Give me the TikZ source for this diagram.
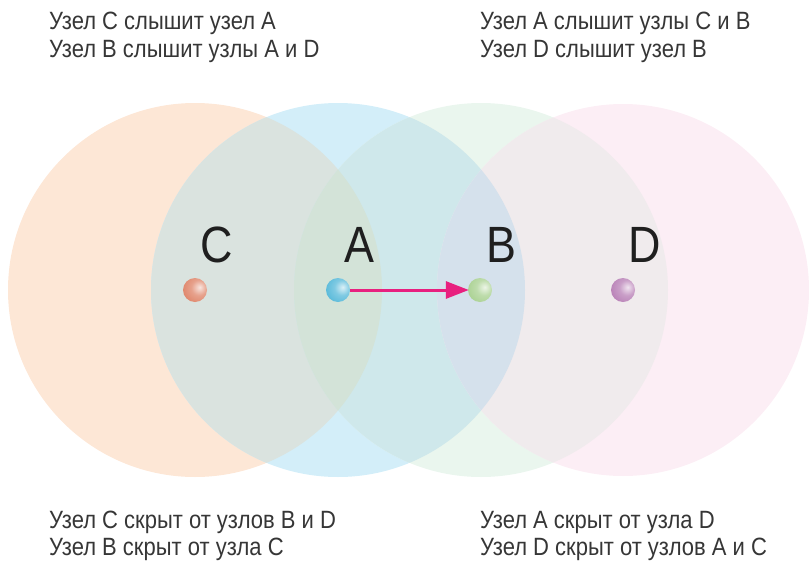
\documentclass[tikz,border=0pt]{standalone}
\usepackage{fontspec}
\setmainfont{Liberation Sans}
\newfontfamily\capfont[FakeStretch=0.88]{Liberation Sans}
\newfontfamily\letterfont[FakeStretch=0.88]{Liberation Sans}
\usetikzlibrary{arrows.meta}
% area colours, one for each overlap region
\definecolor{zoneC}{HTML}{FDE7D6}
\definecolor{zoneA}{HTML}{D3EEF9}
\definecolor{zoneB}{HTML}{EAF6EE}
\definecolor{zoneD}{HTML}{FCEEF5}
\definecolor{zoneCA}{HTML}{DAE3DF}
\definecolor{zoneAB}{HTML}{CFE8EB}
\definecolor{zoneBD}{HTML}{F0EBED}
\definecolor{zoneCAB}{HTML}{D3E3D8}
\definecolor{zoneABD}{HTML}{D5E1EC}
% station colours
\definecolor{dotC}{HTML}{DC7A5C}
\definecolor{dotA}{HTML}{48B3D6}
\definecolor{dotB}{HTML}{A2CD88}
\definecolor{dotD}{HTML}{B275B0}
\colorlet{dotCl}{dotC!20!white}
\colorlet{dotAl}{dotA!20!white}
\colorlet{dotBl}{dotB!20!white}
\colorlet{dotDl}{dotD!20!white}
\colorlet{dotCm}{dotC!70!white}
\colorlet{dotAm}{dotA!70!white}
\colorlet{dotBm}{dotB!70!white}
\colorlet{dotDm}{dotD!70!white}
\pgfdeclareradialshading{sphereC}{\pgfpoint{10bp}{6bp}}{color(0bp)=(dotCl); color(16bp)=(dotCm); color(42bp)=(dotC); color(100bp)=(dotC)}
\pgfdeclareradialshading{sphereA}{\pgfpoint{10bp}{6bp}}{color(0bp)=(dotAl); color(16bp)=(dotAm); color(42bp)=(dotA); color(100bp)=(dotA)}
\pgfdeclareradialshading{sphereB}{\pgfpoint{10bp}{6bp}}{color(0bp)=(dotBl); color(16bp)=(dotBm); color(42bp)=(dotB); color(100bp)=(dotB)}
\pgfdeclareradialshading{sphereD}{\pgfpoint{10bp}{6bp}}{color(0bp)=(dotDl); color(16bp)=(dotDm); color(42bp)=(dotD); color(100bp)=(dotD)}
\definecolor{arrowpink}{HTML}{E8207F}
\definecolor{txt}{HTML}{363636}
\tikzset{
  station/.style={circle, minimum size=24pt, inner sep=0pt},
  letter/.style={font=\letterfont\fontsize{51}{51}\selectfont, text=black!88, inner sep=0pt, anchor=base},
  caption/.style={font=\capfont\fontsize{25}{28}\selectfont, text=txt, anchor=base west, inner sep=0pt},
}
\begin{document}
\begin{tikzpicture}[x=1pt,y=1pt]
\useasboundingbox (0,0) rectangle (809,-565);
\def\areaC{(195,-290) circle (187)}
\def\areaA{(338,-290) circle (187)}
\def\areaB{(481,-290) circle (187)}
\def\areaD{(623,-290) circle (186)}
% coverage areas
\fill[zoneC] \areaC;
\fill[zoneA] \areaA;
\fill[zoneB] \areaB;
\fill[zoneD] \areaD;
% pairwise overlaps
\begin{scope}\clip \areaC; \fill[zoneCA] \areaA; \end{scope}
\begin{scope}\clip \areaA; \fill[zoneAB] \areaB; \end{scope}
\begin{scope}\clip \areaB; \fill[zoneBD] \areaD; \end{scope}
% triple overlaps
\begin{scope}\clip \areaC; \fill[zoneCAB] \areaB; \end{scope}
\begin{scope}\clip \areaA; \fill[zoneABD] \areaD; \end{scope}
% stations
\shade[shading=sphereC] (195,-290) circle (12);
\shade[shading=sphereA] (338,-290) circle (12);
\shade[shading=sphereB] (480,-290) circle (12);
\shade[shading=sphereD] (623,-290) circle (12);
\node[station] (C) at (195,-290) {};
\node[station] (A) at (338,-290) {};
\node[station] (B) at (480,-290) {};
\node[station] (D) at (623,-290) {};
% station letters
\node[letter] (lC) at (217,-262) {C};
\node[letter] (lA) at (359,-262) {A};
\node[letter] (lB) at (501,-262) {B};
\node[letter] (lD) at (645,-262) {D};
% transmission from A to B
\draw[arrowpink, line width=3pt, -{Triangle[length=23pt, width=17pt]}, shorten >=-1pt] (A) -- (B);
% captions
\node[caption] (t1a) at (49,-29) {Узел C слышит узел A};
\node[caption] (t1b) at (49,-57) {Узел B слышит узлы A и D};
\node[caption] (t2a) at (480,-29) {Узел A слышит узлы C и B};
\node[caption] (t2b) at (480,-57) {Узел D слышит узел B};
\node[caption] (t3a) at (49,-528) {Узел C скрыт от узлов B и D};
\node[caption] (t3b) at (49,-555) {Узел B скрыт от узла C};
\node[caption] (t4a) at (480,-528) {Узел A скрыт от узла D};
\node[caption] (t4b) at (480,-555) {Узел D скрыт от узлов A и C};
\end{tikzpicture}
\end{document}
